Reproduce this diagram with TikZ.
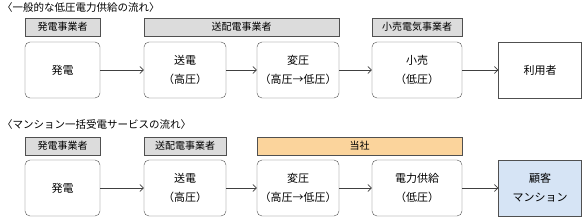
\documentclass[tikz,border=0pt]{standalone}
\usepackage{fontspec}
\setmainfont{Noto Sans CJK JP}
\usetikzlibrary{arrows.meta,positioning}
\definecolor{hdrgray}{HTML}{DCDCDC}
\definecolor{ourorange}{HTML}{FBD49C}
\definecolor{custblue}{HTML}{D6E4F5}
\definecolor{edgegray}{HTML}{505050}

\begin{document}
\begin{tikzpicture}[x=1pt,y=-1pt,
  hdr/.style={draw=edgegray, fill=hdrgray, minimum height=18pt, inner sep=0pt, font=\fontsize{10}{11}\selectfont},
  stage/.style={draw=edgegray, rounded corners=5pt, fill=white, align=center, minimum height=56pt, inner sep=0pt, font=\fontsize{11}{19}\selectfont},
  enduser/.style={draw=edgegray, fill=white, align=center, minimum height=56pt, inner sep=0pt, font=\fontsize{11}{19}\selectfont},
  ttl/.style={anchor=west, inner sep=0pt, font=\fontsize{10.5}{12}\selectfont},
  flow/.style={->, draw=black!75, line width=0.6pt},
  >={Straight Barb[length=3.5pt,width=7pt]}
]
\useasboundingbox (0,0) rectangle (583,217);

% general low-voltage supply
\node[ttl] (ttlA) at (2,8) {〈一般的な低圧電力供給の流れ〉};
\node[hdr, minimum width=75pt] (hgenA) at (62.5,27) {発電事業者};
\node[hdr, minimum width=195pt] (htdA) at (241.5,27) {送配電事業者};
\node[hdr, minimum width=90pt] (hretA) at (417,27) {小売電気事業者};
\node[stage, minimum width=75pt] (genA) at (62.5,70) {発電};
\node[stage, minimum width=82pt] (transA) at (185,70) {送電\\（高圧）};
\node[stage, minimum width=82pt] (convA) at (298,70) {変圧\\（高圧→低圧）};
\node[stage, minimum width=90pt] (retA) at (417,70) {小売\\（低圧）};
\node[enduser, minimum width=83pt] (userA) at (540,70) {利用者};
\draw[flow] (genA) -- (transA);
\draw[flow] (transA) -- (convA);
\draw[flow] (convA) -- (retA);
\draw[flow] (retA) -- (userA);

% bulk-receiving service for condominiums
\node[ttl] (ttlB) at (2,125) {〈マンション一括受電サービスの流れ〉};
\node[hdr, minimum width=75pt] (hgenB) at (62.5,146) {発電事業者};
\node[hdr, minimum width=82pt] (htdB) at (185,146) {送配電事業者};
\node[hdr, fill=ourorange, minimum width=205pt] (hourB) at (359.5,146) {当社};
\node[stage, minimum width=75pt] (genB) at (62.5,188) {発電};
\node[stage, minimum width=82pt] (transB) at (185,188) {送電\\（高圧）};
\node[stage, minimum width=82pt] (convB) at (298,188) {変圧\\（高圧→低圧）};
\node[stage, minimum width=90pt] (supB) at (417,188) {電力供給\\（低圧）};
\node[enduser, fill=custblue, minimum width=83pt] (custB) at (540,188) {顧客\\マンション};
\draw[flow] (genB) -- (transB);
\draw[flow] (transB) -- (convB);
\draw[flow] (convB) -- (supB);
\draw[flow] (supB) -- (custB);
\end{tikzpicture}
\end{document}
